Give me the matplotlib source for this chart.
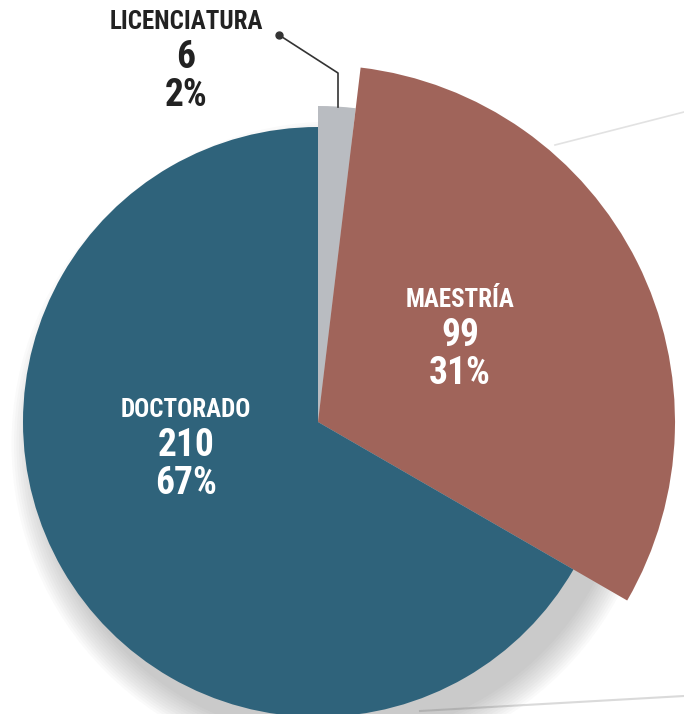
import matplotlib.pyplot as plt
from matplotlib.patches import Circle

# data
labels = ['LICENCIATURA', 'MAESTRÍA', 'DOCTORADO']
counts = [6, 99, 210]
percents = ['2%', '31%', '67%']
colors = ['#b9bcc1', '#a0645a', '#2f637b']

W, H = 684, 714
fig = plt.figure(figsize=(W / 100, H / 100), dpi=100)
ax = fig.add_axes([0, 0, 1, 1])
fig.patch.set_facecolor('white')

font = ['Roboto Condensed', 'Liberation Sans Narrow', 'Roboto', 'DejaVu Sans']
cx, cy = 318, 292
r_main = 295

# faint background sheet edges
ax.plot([555, 684], [569, 602], color='#e2e2e2', lw=1.2, zorder=0)
ax.plot([420, 684], [3, 18], color='#dadada', lw=1.5, zorder=0)

# soft shadow behind the pie (bottom-right)
for i in range(12):
    ax.add_patch(Circle((cx + 16, cy - 22), r_main + i * 2.5,
                        color='#6a6a6a', alpha=0.03, lw=0, zorder=1))

wedges, _ = ax.pie(counts, colors=colors, startangle=90, counterclock=False,
                   center=(cx, cy), radius=r_main, frame=True,
                   wedgeprops=dict(linewidth=0))
wedges[0].set_radius(316)
wedges[1].set_radius(357)
for w in wedges:
    w.set_zorder(3)

ax.set_xlim(0, W)
ax.set_ylim(0, H)
ax.set_aspect('equal')
ax.axis('off')

# labels
name_fs, num_fs = 18, 27
text_pos = {0: (186, 692, '#222222'), 1: (460, 414, 'white'), 2: (186, 304, 'white')}
for i, (x, y, c) in text_pos.items():
    ax.text(x, y, labels[i], ha='center', va='center', fontsize=name_fs,
            fontweight='bold', color=c, family=font, zorder=5)
    ax.text(x, y - 36, str(counts[i]), ha='center', va='center', fontsize=num_fs,
            fontweight='bold', color=c, family=font, zorder=5)
    ax.text(x, y - 73, percents[i], ha='center', va='center', fontsize=num_fs,
            fontweight='bold', color=c, family=font, zorder=5)

# leader line for the small slice
ax.plot([279, 338, 338], [679, 641, 607], color='#333333', lw=1.2, zorder=5)
ax.plot([279], [679], 'o', color='#333333', ms=5, zorder=5)

fig.savefig('out.png', dpi=100, facecolor='white')
